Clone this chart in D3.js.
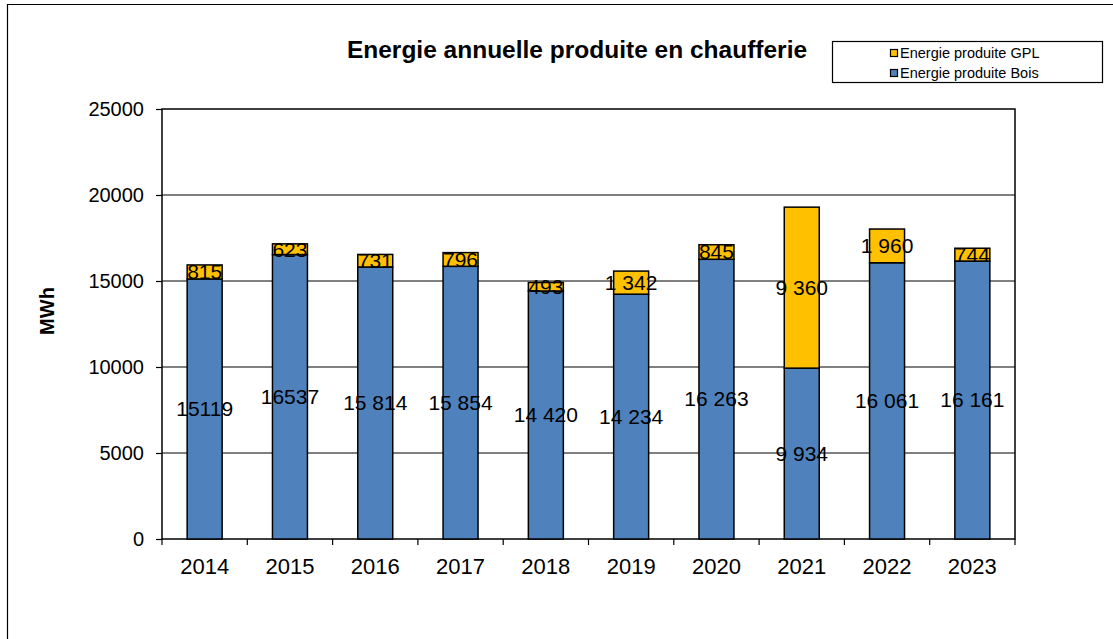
<!DOCTYPE html>
<html>
<head>
<meta charset="utf-8">
<script src="https://cdn.jsdelivr.net/npm/d3@7"></script>
<style>
  body { margin: 0; background: #fff; }
  svg { display: block; font-family: "Liberation Sans", Arial, sans-serif; }
</style>
</head>
<body>
<svg width="1113" height="639"></svg>
<script>
// data
var years = ["2014","2015","2016","2017","2018","2019","2020","2021","2022","2023"];
var bois = [15119, 16537, 15814, 15854, 14420, 14234, 16263, 9934, 16061, 16161];
var gpl = [815, 623, 731, 796, 493, 1342, 845, 9360, 1960, 744];
var boisLabels = ["15119","16537","15 814","15 854","14 420","14 234","16 263","9 934","16 061","16 161"];
var gplLabels = ["815","623","731","796","493","1 342","845","9 360","1 960","744"];
var yTicks = [0, 5000, 10000, 15000, 20000, 25000];
var seriesNames = ["Energie produite GPL", "Energie produite Bois"];
var colors = {bois: "#4F81BD", gpl: "#FFC000"};

function main(){
    var svg = d3.select("svg");

    // outer frame (only top and left edges visible)
    svg.append("path")
        .attr("d", "M7.5,639 L7.5,4.5 L1113,4.5")
        .attr("fill", "none")
        .attr("stroke", "#000")
        .attr("stroke-width", 1.2);

    var left = 162, right = 1015, top = 109, bottom = 539;
    var width = right - left, height = bottom - top;

    var xScale = d3.scaleBand().domain(years).range([0, width])
        .paddingInner(0.59).paddingOuter(0.295);
    var yScale = d3.scaleLinear().domain([0, 25000]).range([height, 0]);

    var g = svg.append("g").attr("transform", "translate(" + left + "," + top + ")");

    // gridlines
    g.selectAll(".grid")
        .data(yTicks.filter(function(d){ return d > 0 && d < 25000; }))
        .enter().append("line")
        .attr("x1", 0).attr("x2", width)
        .attr("y1", function(d){ return yScale(d); })
        .attr("y2", function(d){ return yScale(d); })
        .attr("stroke", "#000").attr("stroke-width", 1);

    // plot border
    g.append("rect")
        .attr("x", 0).attr("y", 0)
        .attr("width", width).attr("height", height)
        .attr("fill", "none").attr("stroke", "#000").attr("stroke-width", 1.5);

    // y axis
    var yAxis = g.append("g")
        .call(d3.axisLeft(yScale).tickValues(yTicks).tickSize(6).tickPadding(12)
            .tickFormat(function(d){ return d; }));
    yAxis.select(".domain").remove();
    yAxis.selectAll("line").attr("stroke", "#000").attr("stroke-width", 1.2);
    yAxis.selectAll("text").attr("font-size", "20px").attr("fill", "#000")
        .attr("font-family", "Liberation Sans, Arial, sans-serif");

    // x axis: ticks between categories
    var step = xScale.step();
    var bounds = d3.range(years.length + 1).map(function(i){ return i * step; });
    g.selectAll(".xtick")
        .data(bounds).enter().append("line")
        .attr("x1", function(d){ return d; }).attr("x2", function(d){ return d; })
        .attr("y1", height).attr("y2", height + 6)
        .attr("stroke", "#000").attr("stroke-width", 1.2);
    g.selectAll(".xlab")
        .data(years).enter().append("text")
        .attr("x", function(d){ return xScale(d) + xScale.bandwidth() / 2; })
        .attr("y", height + 35)
        .attr("text-anchor", "middle")
        .attr("font-size", "22px")
        .text(function(d){ return d; });

    // stacked bars
    var bw = xScale.bandwidth();
    g.selectAll(".bois")
        .data(years).enter().append("rect")
        .attr("x", function(d){ return xScale(d); })
        .attr("y", function(d, i){ return yScale(bois[i]); })
        .attr("width", bw)
        .attr("height", function(d, i){ return height - yScale(bois[i]); })
        .attr("fill", colors.bois).attr("stroke", "#000").attr("stroke-width", 1.5);
    g.selectAll(".gpl")
        .data(years).enter().append("rect")
        .attr("x", function(d){ return xScale(d); })
        .attr("y", function(d, i){ return yScale(bois[i] + gpl[i]); })
        .attr("width", bw)
        .attr("height", function(d, i){ return yScale(bois[i]) - yScale(bois[i] + gpl[i]); })
        .attr("fill", colors.gpl).attr("stroke", "#000").attr("stroke-width", 1.5);

    // value labels
    g.selectAll(".boisLab")
        .data(years).enter().append("text")
        .attr("x", function(d){ return xScale(d) + bw / 2; })
        .attr("y", function(d, i){ return yScale(bois[i] / 2); })
        .attr("dy", "0.35em")
        .attr("text-anchor", "middle")
        .attr("font-size", "21px")
        .text(function(d, i){ return boisLabels[i]; });
    g.selectAll(".gplLab")
        .data(years).enter().append("text")
        .attr("x", function(d){ return xScale(d) + bw / 2; })
        .attr("y", function(d, i){ return yScale(bois[i] + gpl[i] / 2); })
        .attr("dy", "0.35em")
        .attr("text-anchor", "middle")
        .attr("font-size", "21px")
        .text(function(d, i){ return gplLabels[i]; });

    // title
    svg.append("text")
        .attr("x", 577).attr("y", 58)
        .attr("text-anchor", "middle")
        .attr("font-size", "24.5px")
        .attr("font-weight", "bold")
        .text("Energie annuelle produite en chaufferie");

    // y label
    svg.append("text")
        .attr("transform", "translate(54,311) rotate(-90)")
        .attr("text-anchor", "middle")
        .attr("font-size", "20px")
        .attr("font-weight", "bold")
        .text("MWh");

    // legend
    var lg = svg.append("g");
    lg.append("rect")
        .attr("x", 832.5).attr("y", 41.5).attr("width", 270).attr("height", 41)
        .attr("fill", "#fff").attr("stroke", "#000").attr("stroke-width", 1.2);
    var legendColors = [colors.gpl, colors.bois];
    seriesNames.forEach(function(name, i){
        var cy = 53 + i * 20;
        lg.append("rect")
            .attr("x", 890.5).attr("y", cy - 3.5).attr("width", 7).attr("height", 7)
            .attr("fill", legendColors[i]).attr("stroke", "#000").attr("stroke-width", 1.2);
        lg.append("text")
            .attr("x", 900).attr("y", cy)
            .attr("dy", "0.36em")
            .attr("font-size", "14.5px")
            .text(name);
    });
}
main();
</script>
</body>
</html>
